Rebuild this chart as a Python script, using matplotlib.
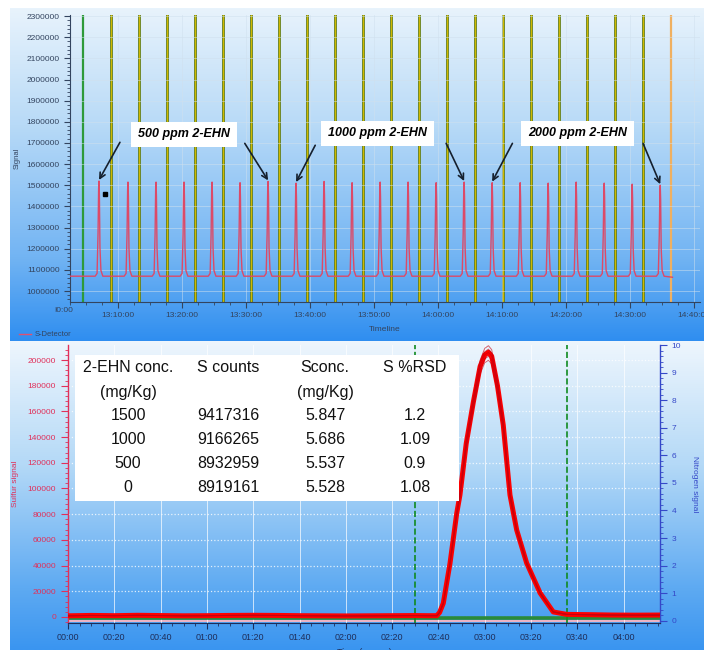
import numpy as np
import matplotlib
matplotlib.use('Agg')
import matplotlib.pyplot as plt
from matplotlib.colors import LinearSegmentedColormap
from matplotlib.lines import Line2D
from matplotlib.patches import Rectangle
from matplotlib.ticker import MultipleLocator, AutoMinorLocator, FuncFormatter

plt.rcParams['font.family'] = ['Liberation Sans', 'DejaVu Sans']

# ---- top chart data (minutes after 13:00) ----
peak_times = [7.03, 11.56, 15.94, 20.31, 24.69, 29.06, 33.44, 37.81, 42.19, 46.56, 50.94,
              55.31, 59.69, 64.06, 68.44, 72.81, 77.19, 81.56, 85.94, 90.31, 94.69]
peak_heights = [1520000, 1515000, 1515000, 1515000, 1515000, 1512000, 1518000, 1510000,
                1518000, 1512000, 1515000, 1515000, 1512000, 1515000, 1512000, 1512000,
                1510000, 1515000, 1510000, 1505000, 1500000]
baseline_top = 1070000
trace_start, trace_end = 2.5, 96.6
# peak profile: offset (min) and fraction of peak height
shape_dt = [-0.6, -0.3, -0.15, -0.06, 0.0, 0.06, 0.15, 0.3, 0.6]
shape_frac = [0.0, 0.03, 0.45, 0.92, 1.0, 0.85, 0.3, 0.06, 0.0]
marker_times = [4.53, 8.91, 13.28, 17.66, 22.03, 26.41, 30.78, 35.16, 39.53, 43.91, 48.28,
                52.66, 57.03, 61.41, 65.78, 70.16, 74.53, 78.91, 83.28, 87.66, 92.03, 96.41]
groups = ['500 ppm 2-EHN', '1000 ppm 2-EHN', '2000 ppm 2-EHN']
group_first = [0, 7, 14]
group_last = [6, 13, 20]

# ---- bottom chart data (seconds) ----
s_time = [0, 10, 20, 30, 40, 50, 60, 70, 80, 90, 100, 110, 120, 130, 140, 150, 155,
          159.3, 160.5, 162.1, 165.0, 167.9, 169.3, 172.0, 175.1, 178.0, 180.0, 181.6,
          183.0, 185.5, 188.0, 190.9, 193.8, 198.1, 203.9, 209.6, 215.4, 225, 235, 245, 255.7]
s_signal = [900, 1200, 1000, 1300, 1100, 900, 1000, 1200, 1300, 1200, 1000, 900, 800, 900,
            1000, 1100, 1000,
            1000, 3500, 10700, 41800, 80700, 95000, 135000, 167500, 195000, 204000, 206000,
            203000, 180000, 149400, 95000, 67700, 42000,
            18700, 3900, 2000, 1800, 1500, 1400, 1500]
run_scales = [0.97, 0.985, 1.0, 1.012, 1.025]
green_level = -800
n_time = [0, 255.7]
n_signal = [0.0, 0.0]
window = [150, 215.5]

col_headers = ['2-EHN conc.', 'S counts', 'Sconc.', 'S %RSD']
col_units = ['(mg/Kg)', '', '(mg/Kg)', '']
ehn_conc = ['1500', '1000', '500', '0']
s_counts = ['9417316', '9166265', '8932959', '8919161']
s_conc = ['5.847', '5.686', '5.537', '5.528']
s_rsd = ['1.2', '1.09', '0.9', '1.08']

W, H = 704, 650
fig = plt.figure(figsize=(W / 100, H / 100), dpi=100)


def fx(x):
    return x / W


def fy(y):
    return 1 - y / H


def gradient_panel(rect, stops):
    bg = fig.add_axes(rect, zorder=-10)
    cmap = LinearSegmentedColormap.from_list('g', stops)
    bg.imshow(np.linspace(0, 1, 256).reshape(-1, 1), aspect='auto', cmap=cmap,
              extent=[0, 1, 0, 1])
    bg.axis('off')


gradient_panel([fx(10), fy(341), fx(694), (341 - 8) / H],
               [(0, '#e8f3fc'), (0.35, '#b8daf7'), (0.75, '#72b4f3'), (1, '#2f8ef0')])
gradient_panel([fx(10), 0, fx(694), 309 / H],
               [(0, '#eef6fd'), (0.4, '#b4d9f7'), (0.8, '#5eaaf2'), (1, '#3a95f0')])

# ================= top chart =================
ax = fig.add_axes([fx(70), fy(302), fx(630), 287 / H])
ax.patch.set_visible(False)

tt = [trace_start]
tv = [baseline_top]
for t, h in zip(peak_times, peak_heights):
    for d, f in zip(shape_dt, shape_frac):
        tt.append(t + d)
        tv.append(baseline_top + f * (h - baseline_top))
tt.append(trace_end)
tv.append(baseline_top - 5000)

for i, t in enumerate(marker_times):
    if i == 0:
        ax.axvline(t, color='#2e9a3a', lw=1.6, zorder=1)
    elif i == len(marker_times) - 1:
        ax.axvline(t, color='#f0b060', lw=1.6, zorder=1)
    else:
        ax.axvline(t, color='#5a7a1c', lw=2.0, zorder=1)
        ax.axvline(t, color='#d0b800', lw=0.9, zorder=1)

ax.plot(tt, tv, color='#dc4a68', lw=1.0, zorder=3)
ax.plot([7.97], [1457500], 's', color='black', ms=2.5, zorder=4)

ax.set_xlim(2.5, 100.9)
ax.set_ylim(948000, 2305000)
ax.xaxis.set_major_locator(MultipleLocator(10))
ax.xaxis.set_minor_locator(AutoMinorLocator(4))
ax.yaxis.set_major_locator(MultipleLocator(100000))
ax.yaxis.set_minor_locator(AutoMinorLocator(5))
ax.xaxis.set_major_formatter(FuncFormatter(lambda m, p: f"{13 + int(m // 60)}:{int(m % 60):02d}:00"))
ax.yaxis.set_major_formatter(FuncFormatter(lambda v, p: f"{int(v)}"))
ax.tick_params(labelsize=6, colors='#33445f', length=4, width=0.8)
ax.tick_params(which='minor', length=2, colors='#33445f')
ax.grid(True, which='major', color='#d0e0ee', lw=0.6, alpha=0.6, zorder=0)
for s in ['top', 'right']:
    ax.spines[s].set_visible(False)
for s in ['left', 'bottom']:
    ax.spines[s].set_color('#33445f')
    ax.spines[s].set_linewidth(0.8)
ax.set_ylabel('Signal', fontsize=5.5, color='#33445f', labelpad=4)
ax.set_xlabel('Timeline', fontsize=6, color='#33445f', labelpad=5)

box_pos = [(20.3, 1740000), (50.5, 1745000), (81.8, 1745000)]
arrow_from = [((10.3, 1703000), (29.8, 1698000)),
              ((40.8, 1689000), (61.25, 1698000)),
              ((71.6, 1698000), (92.0, 1698000))]
for g, (cx, cy), (a, b), i0, i1 in zip(groups, box_pos, arrow_from, group_first, group_last):
    ax.text(cx, cy, g, ha='center', va='center', fontsize=9, fontweight='bold', style='italic',
            color='black', zorder=6,
            bbox=dict(boxstyle='square,pad=0.55', fc='white', ec='none'))
    for start, idx in ((a, i0), (b, i1)):
        ax.annotate('', xy=(peak_times[idx], peak_heights[idx] + 5000), xytext=start,
                    arrowprops=dict(arrowstyle='->', color='#15202e', lw=1.2,
                                    shrinkA=0, shrinkB=0), zorder=6)

fig.text(fx(54), fy(311), 'I0:00', fontsize=6, color='#33445f', ha='left', va='center')
fig.add_artist(Line2D([fx(19), fx(31)], [fy(334), fy(334)], color='#e05070', lw=1))
fig.text(fx(35), fy(334), 'S-Detector', fontsize=5.5, color='#33445f', va='center')

# ================= bottom chart =================
ax2 = fig.add_axes([fx(68), fy(623), fx(592), 278 / H])
ax2.patch.set_visible(False)
tw = ax2.twinx()
tw.patch.set_visible(False)
ax2.set_zorder(tw.get_zorder() + 1)

tw.plot(n_time, n_signal, color='#f0b4c4', lw=1.4)
ax2.plot(n_time, [green_level, green_level], color='#2a8a3a', lw=2.6, zorder=2)
for w in window:
    ax2.axvline(w, color='#108a20', ls='--', lw=1.2, zorder=2)
ax2.plot(s_time, s_signal, color='#ff0000', lw=3.6, zorder=3, solid_capstyle='butt',
         solid_joinstyle='round')
for sc in run_scales:
    ax2.plot(s_time, [v * sc for v in s_signal], color='#c40010', lw=0.7, alpha=0.6, zorder=4)

ax2.set_xlim(0, 255.7)
ax2.set_ylim(-4700, 211700)
tw.set_ylim(-0.08, 10.0)
ax2.xaxis.set_major_locator(MultipleLocator(20))
ax2.xaxis.set_minor_locator(AutoMinorLocator(4))
ax2.yaxis.set_major_locator(MultipleLocator(20000))
ax2.yaxis.set_minor_locator(AutoMinorLocator(5))
tw.yaxis.set_major_locator(MultipleLocator(1))
tw.yaxis.set_minor_locator(AutoMinorLocator(5))
ax2.xaxis.set_major_formatter(FuncFormatter(lambda s, p: f"{int(s // 60):02d}:{int(round(s % 60)):02d}"))
ax2.tick_params(axis='x', labelsize=6.5, colors='#1e2e5a', length=4, width=0.8)
ax2.tick_params(axis='x', which='minor', length=2, colors='#1e2e5a')
ax2.tick_params(axis='y', labelsize=6, colors='#e0305a', length=5, width=0.8)
ax2.tick_params(axis='y', which='minor', length=2.5, colors='#e0305a')
tw.tick_params(axis='y', labelsize=6, colors='#3548c8', length=5, width=0.8)
tw.tick_params(axis='y', which='minor', length=2.5, colors='#3548c8')
ax2.xaxis.grid(True, color='white', lw=0.7, alpha=0.7)
ax2.yaxis.grid(True, color='white', ls=':', lw=0.9, alpha=0.8)
ax2.set_axisbelow(True)
for a in (ax2, tw):
    a.spines['top'].set_visible(False)
ax2.spines['right'].set_visible(False)
tw.spines['left'].set_visible(False)
tw.spines['bottom'].set_visible(False)
ax2.spines['left'].set_color('#e0305a')
ax2.spines['left'].set_linewidth(1.0)
ax2.spines['bottom'].set_color('#1e2e5a')
tw.spines['right'].set_color('#3548c8')
tw.spines['right'].set_linewidth(1.0)
ax2.set_ylabel('Sulfur signal', fontsize=6, color='#e0305a', labelpad=6)
tw.set_ylabel('Nitrogen signal', fontsize=6, color='#3548c8', rotation=270, labelpad=12)
ax2.set_xlabel('Time (mm:ss)', fontsize=6.5, color='#1e2e5a', labelpad=4)

# table box
fig.add_artist(Rectangle((fx(75), fy(501)), fx(384), (501 - 355) / H,
                         transform=fig.transFigure, fc='white', ec='none', zorder=5))
col_x = [128, 228, 325, 415]
rows = [col_headers, col_units] + [list(r) for r in zip(ehn_conc, s_counts, s_conc, s_rsd)]
row_y = [368, 392, 416, 440, 464, 488]
for r, y in zip(rows, row_y):
    for txt, x in zip(r, col_x):
        fig.text(fx(x), fy(y), txt, ha='center', va='center', fontsize=11.5,
                 color='#111111', zorder=6)

fig.savefig('out.png', dpi=100)
